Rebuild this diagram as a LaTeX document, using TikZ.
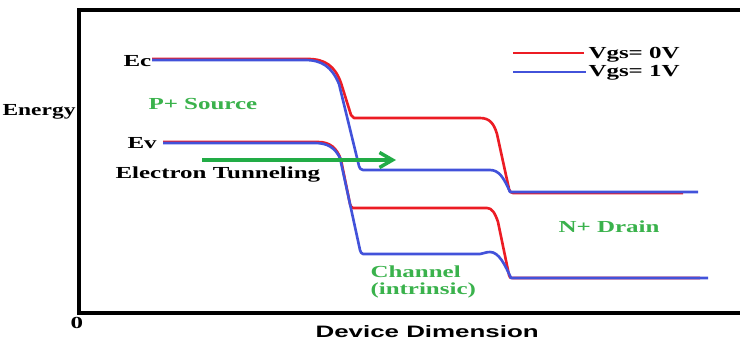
\documentclass[tikz,border=0pt]{standalone}
\usepackage{fontspec}
\setmainfont{Liberation Serif}
\newfontfamily\arialfont{Liberation Sans}
\usetikzlibrary{arrows.meta}
\definecolor{bandred}{RGB}{236,28,36}
\definecolor{bandblue}{RGB}{66,82,218}
\definecolor{textgreen}{RGB}{58,178,76}
\definecolor{arrowgreen}{RGB}{34,172,70}
\tikzset{
  lbl/.style={font=\fontsize{9.6}{11}\selectfont\bfseries, xscale=1.48,
    transform shape, inner sep=0pt, anchor=base west},
  band/.style={line width=1.5pt, line join=round},
  frame/.style={line width=2.3pt}
}
\begin{document}
\begin{tikzpicture}[x=0.02cm, y=-0.02cm]
  \useasboundingbox (0,0) rectangle (740,341);
  \coordinate (TR) at (745,10);
  \coordinate (TL) at (79,10);
  \coordinate (BL) at (79,313);
  \coordinate (BR) at (745,313);
  \draw[frame] (TR) -- (TL) -- (BL) -- (BR);

  \draw[band, bandred] (152,59) -- (308,59)
    .. controls (325,59) and (335,66) .. (341,83) -- (351,115)
    .. controls (352,117) .. (354,118) -- (480,118)
    .. controls (490,118) and (494,124) .. (497,134) -- (509,189)
    .. controls (510,192) .. (513,193) -- (683,193);
  \draw[band, bandblue] (152,60) -- (305,60)
    .. controls (322,60) and (332,67) .. (339,84) -- (359,166)
    .. controls (360,169) .. (363,170) -- (490,170)
    .. controls (499,170) and (504,178) .. (510,192) -- (698,192);
  \draw[band, bandred] (163,142) -- (318,142)
    .. controls (330,142) and (337,148) .. (341,160) -- (350,204)
    .. controls (351,207) .. (353,208) -- (487,208)
    .. controls (492,208) and (495,213) .. (498,222) -- (509,275)
    .. controls (510,278) .. (513,278) -- (700,278);
  \draw[band, bandblue] (163,143) -- (315,143)
    .. controls (328,143) and (335,148) .. (340,158) -- (360,250)
    .. controls (361,253) .. (363,254) -- (480,254)
    .. controls (483,254) and (485,252) .. (490,252)
    .. controls (499,252) and (505,265) .. (511,278) -- (708,278);

  \coordinate (tunA) at (202,160);
  \coordinate (tunB) at (396,160);
  \draw[arrowgreen, line width=2.2pt,
    -{Straight Barb[length=0.26cm, width=0.3cm, line width=2pt]}] (tunA) -- (tunB);

  \coordinate (legRa) at (513,53);
  \coordinate (legRb) at (584,53);
  \coordinate (legBa) at (513,72);
  \coordinate (legBb) at (586,72);
  \draw[band, bandred] (legRa) -- (legRb);
  \draw[band, bandblue] (legBa) -- (legBb);
  \node[lbl] (vgs0) at (588,59) {Vgs= 0V};
  \node[lbl] (vgs1) at (588,77) {Vgs= 1V};

  \node[lbl, anchor=base east, xscale=0.94] (energy) at (76,115) {Energy};
  \node[lbl] (ec) at (123,67) {Ec};
  \node[lbl] (ev) at (127,149) {Ev};
  \node[lbl, textgreen] (source) at (148,110) {P+ Source};
  \node[lbl] (tunnel) at (115,178) {Electron Tunneling};
  \node[lbl, textgreen] (chan) at (370,277) {Channel};
  \node[lbl, textgreen] (intr) at (370,294) {(intrinsic)};
  \node[lbl, textgreen] (drain) at (558,232) {N+ Drain};
  \node[lbl] (zero) at (70,328) {0};
  \node[lbl, font=\fontsize{9.4}{11}\selectfont\arialfont\bfseries, xscale=1.06]
    (dim) at (315,337) {Device Dimension};
\end{tikzpicture}
\end{document}
